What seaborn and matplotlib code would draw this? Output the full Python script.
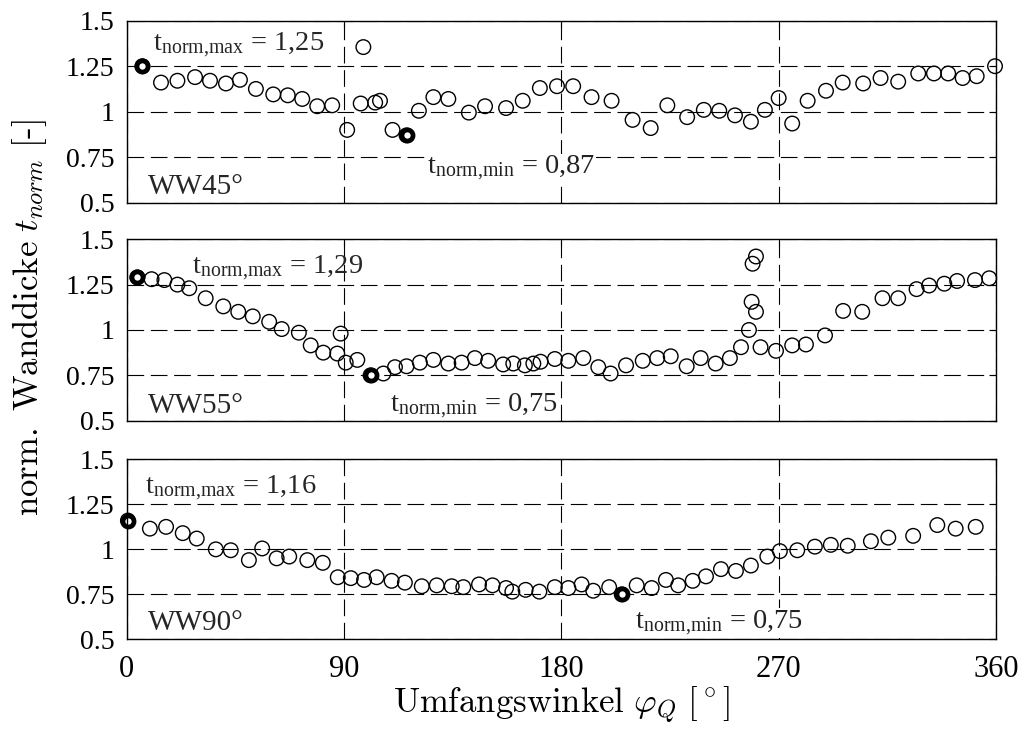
import matplotlib
matplotlib.use("Agg")
import matplotlib.pyplot as plt
import pandas as pd
import seaborn as sns

# ---------------------------------------------------------------------------
# Normalised wall thickness over the circumferential angle, three pipe bends
# ---------------------------------------------------------------------------
x_ticks = [0, 90, 180, 270, 360]
y_ticks = [0.5, 0.75, 1.0, 1.25, 1.5]
y_tick_labels = ["0.5", "0.75", "1", "1.25", "1.5"]

# WW45°
ww45_angle = [6.5, 14.2, 21.0, 28.3, 34.5, 41.1, 46.9, 53.5, 60.7, 66.7, 72.7,
              78.9, 85.1, 91.3, 96.9, 98.0, 102.9, 104.9, 110.1, 115.9, 121.0,
              127.0, 133.2, 141.7, 148.4, 157.1, 164.0, 171.1, 178.2, 184.9,
              192.5, 200.8, 209.5, 217.0, 223.9, 232.1, 239.0, 245.4, 251.9,
              258.5, 264.3, 270.0, 275.6, 282.0, 289.6, 296.5, 305.0, 312.2,
              319.5, 327.8, 334.3, 340.2, 346.2, 352.0, 359.6]
ww45_t = [1.25, 1.16, 1.17, 1.19, 1.17, 1.155, 1.175, 1.125, 1.095, 1.09, 1.07,
          1.03, 1.035, 0.90, 1.045, 1.355, 1.05, 1.06, 0.90, 0.87, 1.005,
          1.08, 1.07, 0.995, 1.03, 1.02, 1.06, 1.13, 1.14, 1.14,
          1.08, 1.06, 0.955, 0.91, 1.035, 0.97, 1.01, 1.005, 0.98,
          0.945, 1.01, 1.075, 0.935, 1.06, 1.115, 1.16, 1.155, 1.185,
          1.165, 1.21, 1.21, 1.21, 1.185, 1.195, 1.25]

# WW55°
ww55_angle = [4.4, 10.3, 15.6, 21.0, 25.9, 32.7, 40.0, 46.2, 52.2, 59.0, 64.2,
              71.3, 76.2, 81.4, 87.2, 88.6, 90.7, 95.5, 101.0, 106.3, 111.1,
              115.9, 121.4, 127.0, 133.2, 138.7, 144.2, 149.7, 155.9, 160.1,
              164.9, 168.4, 171.4, 177.3, 182.9, 189.1, 195.3, 200.4, 206.8,
              213.7, 219.7, 225.3, 231.9, 237.7, 243.9, 249.8, 254.4, 257.7,
              258.8, 260.6, 259.2, 260.6, 262.5, 268.9, 275.6, 281.3, 289.2,
              296.7, 304.6, 313.0, 319.5, 327.1, 332.3, 338.6, 343.9, 351.3,
              357.2]
ww55_t = [1.29, 1.28, 1.275, 1.25, 1.23, 1.175, 1.13, 1.10, 1.075, 1.045, 1.005,
          0.985, 0.915, 0.875, 0.87, 0.98, 0.82, 0.835, 0.75, 0.76, 0.795,
          0.80, 0.82, 0.835, 0.815, 0.82, 0.845, 0.83, 0.81, 0.815,
          0.805, 0.815, 0.825, 0.84, 0.83, 0.845, 0.795, 0.76, 0.805,
          0.83, 0.845, 0.855, 0.80, 0.845, 0.815, 0.845, 0.905, 1.00,
          1.155, 1.10, 1.365, 1.405, 0.905, 0.885, 0.915, 0.92, 0.97,
          1.105, 1.10, 1.175, 1.175, 1.225, 1.245, 1.255, 1.27, 1.275,
          1.285]

# WW90°
ww90_angle = [0.5, 9.6, 16.3, 23.2, 29.0, 36.9, 43.1, 50.6, 56.1, 62.1, 67.3,
              74.8, 81.2, 87.4, 92.8, 98.3, 103.5, 109.7, 115.2, 122.2, 128.4,
              134.6, 139.4, 145.9, 151.5, 157.1, 159.7, 165.2, 170.9, 177.3,
              182.9, 188.4, 193.2, 199.8, 205.0, 211.2, 217.4, 223.3, 228.4,
              234.4, 239.9, 246.1, 252.3, 258.5, 265.3, 270.5, 277.7, 285.0,
              291.6, 298.6, 308.2, 315.4, 325.7, 335.7, 343.3, 351.6]
ww90_t = [1.16, 1.115, 1.125, 1.09, 1.06, 1.00, 0.995, 0.94, 1.005, 0.95, 0.96,
          0.94, 0.925, 0.845, 0.84, 0.83, 0.845, 0.825, 0.815, 0.795, 0.80,
          0.795, 0.79, 0.805, 0.80, 0.785, 0.765, 0.775, 0.765, 0.79,
          0.785, 0.805, 0.77, 0.79, 0.75, 0.80, 0.785, 0.83, 0.80,
          0.825, 0.85, 0.89, 0.88, 0.91, 0.96, 0.99, 0.995, 1.015,
          1.025, 1.02, 1.045, 1.065, 1.075, 1.135, 1.115, 1.125]

# extreme values (angle, value) per bend
ww45_max = (6.5, 1.25)
ww45_min = (115.9, 0.87)
ww55_max = (4.4, 1.29)
ww55_min = (101.0, 0.75)
ww90_max = (0.5, 1.16)
ww90_min = (205.0, 0.75)

bend_names = ["WW45°", "WW55°", "WW90°"]

panels = [
    dict(name=bend_names[0], angle=ww45_angle, t=ww45_t, tmax=ww45_max, tmin=ww45_min,
         rect=[0.1241, 0.7227, 0.8514, 0.2490],
         max_pos=(10.9, 1.333), min_pos=(124.4, 0.658), name_pos=(8.8, 0.547)),
    dict(name=bend_names[1], angle=ww55_angle, t=ww55_t, tmax=ww55_max, tmin=ww55_min,
         rect=[0.1241, 0.4245, 0.8514, 0.2482],
         max_pos=(26.9, 1.312), min_pos=(109.0, 0.550), name_pos=(8.8, 0.541)),
    dict(name=bend_names[2], angle=ww90_angle, t=ww90_t, tmax=ww90_max, tmin=ww90_min,
         rect=[0.1241, 0.1254, 0.8514, 0.2462],
         max_pos=(7.6, 1.308), min_pos=(210.5, 0.562), name_pos=(8.8, 0.553)),
]

sns.set_theme(style="white")
plt.rcParams["font.family"] = ["Liberation Serif", "DejaVu Serif"]
plt.rcParams["mathtext.fontset"] = "custom"
plt.rcParams["mathtext.rm"] = "Liberation Serif"
plt.rcParams["mathtext.it"] = "Liberation Serif:italic"
plt.rcParams["axes.unicode_minus"] = False

fig = plt.figure(figsize=(10.21, 7.31), dpi=100)
fig.patch.set_facecolor("white")


def fmt(v):
    return f"{v:.2f}".replace(".", ",")


for i, p in enumerate(panels):
    ax = fig.add_axes(p["rect"])
    ax.set_facecolor("white")
    df = pd.DataFrame({"angle": p["angle"], "t": p["t"]})
    sns.scatterplot(data=df, x="angle", y="t", ax=ax, marker="o", s=110,
                    facecolor="none", edgecolor="black", linewidth=1.0,
                    zorder=3, clip_on=False)
    ext = pd.DataFrame({"angle": [p["tmax"][0], p["tmin"][0]],
                        "t": [p["tmax"][1], p["tmin"][1]]})
    sns.scatterplot(data=ext, x="angle", y="t", ax=ax, marker="o", s=64,
                    facecolor="white", edgecolor="black", linewidth=3.4,
                    zorder=4, clip_on=False)

    ax.set_xlim(0, 360)
    ax.set_ylim(0.5, 1.5)
    ax.set_xticks(x_ticks)
    ax.set_yticks(y_ticks)
    ax.set_yticklabels(y_tick_labels)
    ax.grid(True, color="black", linestyle=(0, (15, 6)), linewidth=0.8)
    ax.set_axisbelow(True)
    ax.tick_params(axis="both", direction="in", length=5, width=0.8,
                   colors="black", top=True, right=True)
    ax.tick_params(axis="y", pad=9, labelsize=20)
    ax.tick_params(axis="x", pad=11, labelsize=22)
    for s in ax.spines.values():
        s.set_color("black")
        s.set_linewidth(1.0)
        s.set_zorder(8)
    ax.set_xlabel("")
    ax.set_ylabel("")
    if i < 2:
        ax.set_xticklabels([])

    ax.text(*p["max_pos"], r"t$_{\mathrm{norm{,}max}}$ = " + fmt(p["tmax"][1]),
            fontsize=20.5, ha="left", va="baseline", zorder=6)
    ax.text(*p["min_pos"], r"t$_{\mathrm{norm{,}min}}$ = " + fmt(p["tmin"][1]),
            fontsize=20.5, ha="left", va="baseline", zorder=6, color="#222222",
            bbox=dict(facecolor="white", edgecolor="none", pad=0.3))
    ax.text(*p["name_pos"], p["name"], fontsize=21, ha="left", va="baseline",
            zorder=6)

    if i == 2:
        ax.set_xlabel(r"$\mathrm{Umfangswinkel}\ \varphi_Q\ [{}^\circ]$",
                      fontsize=25, labelpad=1, math_fontfamily="cm",
                      color="black")

fig.text(0.029, 0.565,
         r"$\mathrm{norm.\ Wanddicke}\ t_{norm}\ [$-$]$",
         rotation=90, ha="center", va="center", fontsize=25,
         family="cmr10", math_fontfamily="cm", color="black")

fig.savefig("out.png", dpi=100, facecolor="white")
